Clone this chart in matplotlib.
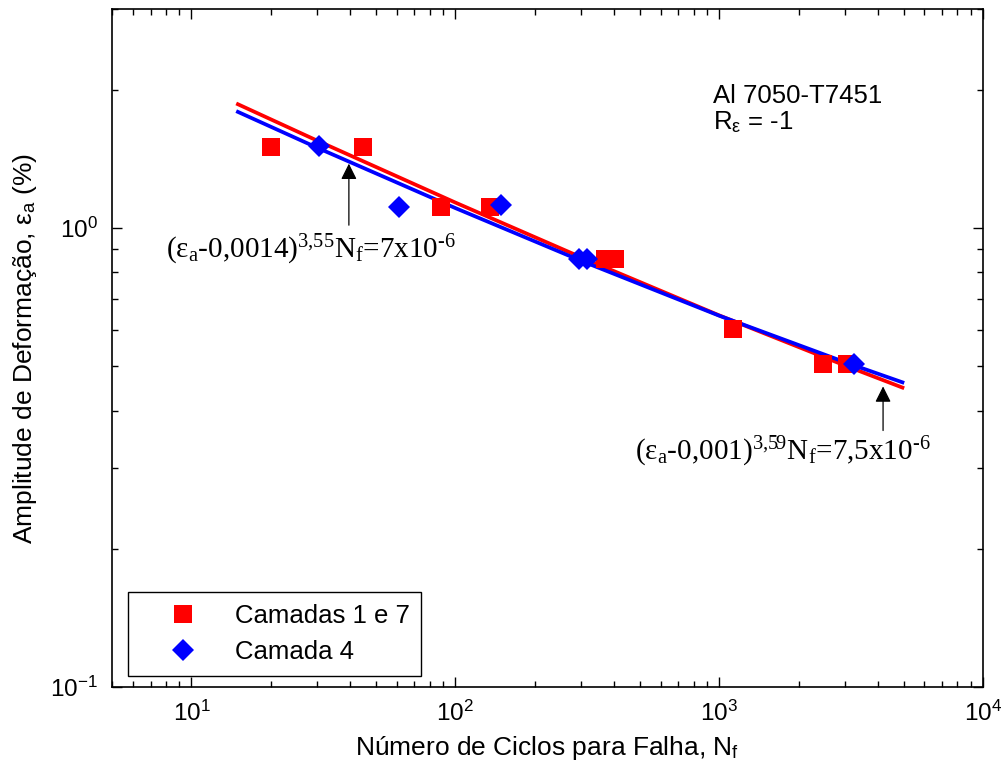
import numpy as np
import matplotlib
matplotlib.use('Agg')
import matplotlib.pyplot as plt
from matplotlib.ticker import FuncFormatter, NullFormatter, LogLocator

plt.rcParams['font.family'] = ['Liberation Sans', 'DejaVu Sans']
plt.rcParams['mathtext.fontset'] = 'custom'
plt.rcParams['mathtext.rm'] = 'Liberation Serif'
plt.rcParams['mathtext.it'] = 'Liberation Serif:italic'
plt.rcParams['mathtext.bf'] = 'Liberation Serif:bold'
plt.rcParams['mathtext.sf'] = 'Liberation Sans'

# dados experimentais (ciclos, amplitude %)
nf_camadas17 = [20, 44.6, 88, 135, 369, 403, 1130, 2480, 3060]
ea_camadas17 = [1.50, 1.50, 1.11, 1.11, 0.856, 0.856, 0.603, 0.505, 0.505]
nf_camada4 = [30.3, 61, 149, 294, 316, 3250]
ea_camada4 = [1.51, 1.11, 1.12, 0.856, 0.856, 0.505]

# curvas ajustadas
nf_ajuste = [15, 30, 100, 300, 1000, 3000, 4950]
ea_ajuste17 = [1.86, 1.549, 1.136, 0.863, 0.645, 0.5015, 0.449]
ea_ajuste4 = [1.79, 1.495, 1.105, 0.848, 0.644, 0.510, 0.461]

fig = plt.figure(figsize=(10.04, 7.78), dpi=100)
ax = fig.add_axes([0.1116, 0.117, 0.8675, 0.8715])

ax.plot(nf_ajuste, ea_ajuste17, color='#ff0000', lw=2.7, zorder=2)
ax.plot(nf_ajuste, ea_ajuste4, color='#0000ff', lw=2.7, zorder=2)
ax.plot(nf_camadas17, ea_camadas17, 's', color='#ff0000', ms=12.5, mew=0,
        label='Camadas 1 e 7', zorder=3)
ax.plot(nf_camada4, ea_camada4, 'D', color='#0000ff', ms=11, mew=0,
        label='Camada 4', zorder=3)

ax.set_xscale('log')
ax.set_yscale('log')
ax.set_xlim(5, 1e4)
ax.set_ylim(0.1, 3)

fmt = FuncFormatter(lambda v, p: r'$\mathsf{10^{%d}}$' % round(np.log10(v)))
ax.xaxis.set_major_formatter(fmt)
ax.yaxis.set_major_formatter(fmt)
ax.xaxis.set_minor_formatter(NullFormatter())
ax.yaxis.set_minor_formatter(NullFormatter())
ax.xaxis.set_major_locator(LogLocator(base=10, numticks=10))
ax.yaxis.set_major_locator(LogLocator(base=10, numticks=10))
ax.tick_params(which='both', direction='in', top=True, right=True, labelsize=17.5, width=1)
ax.tick_params(which='major', length=7, pad=10)
ax.tick_params(which='minor', length=4)
for s in ax.spines.values():
    s.set_linewidth(1.2)

ax.set_xlabel('Número de Ciclos para Falha, N$_\\mathsf{f}$', fontsize=19, labelpad=6)
ax.set_ylabel('Amplitude de Deformação, ε$_\\mathsf{a}$ (%)', fontsize=19, labelpad=8)

ax.text(0.69, 0.861, 'Al 7050-T7451', transform=ax.transAxes, fontsize=18.5)
ax.text(0.69, 0.823, 'R$_\\mathsf{ε}$ = -1', transform=ax.transAxes, fontsize=18.5)

# anotacoes das equacoes
eq4 = r'$\text{(ε}_\text{a}\text{-0,0014)}^\text{3,55}\text{N}_\text{f}\text{=7x10}^\text{-6}$'
eq17 = r'$\text{(ε}_\text{a}\text{-0,001)}^\text{3,59}\text{N}_\text{f}\text{=7,5x10}^\text{-6}$'
ax.annotate('', xy=(39.5, 1.40), xytext=(39.5, 1.0),
            arrowprops=dict(arrowstyle='-|>', color='black', lw=0.9, mutation_scale=24))
ax.text(0.062, 0.633, eq4, transform=ax.transAxes, fontsize=21)
ax.annotate('', xy=(4180, 0.458), xytext=(4180, 0.357),
            arrowprops=dict(arrowstyle='-|>', color='black', lw=0.9, mutation_scale=24))
ax.text(0.60, 0.335, eq17, transform=ax.transAxes, fontsize=21)

leg = ax.legend(loc='upper left', bbox_to_anchor=(0.0184, 0.14), fontsize=18.5,
                frameon=True, fancybox=False, edgecolor='black', framealpha=1,
                borderpad=0.45, handlelength=3.4, handletextpad=0.3,
                labelspacing=0.5, borderaxespad=0, numpoints=1)
leg.get_frame().set_linewidth(1.0)

fig.savefig('out.png', dpi=100)
